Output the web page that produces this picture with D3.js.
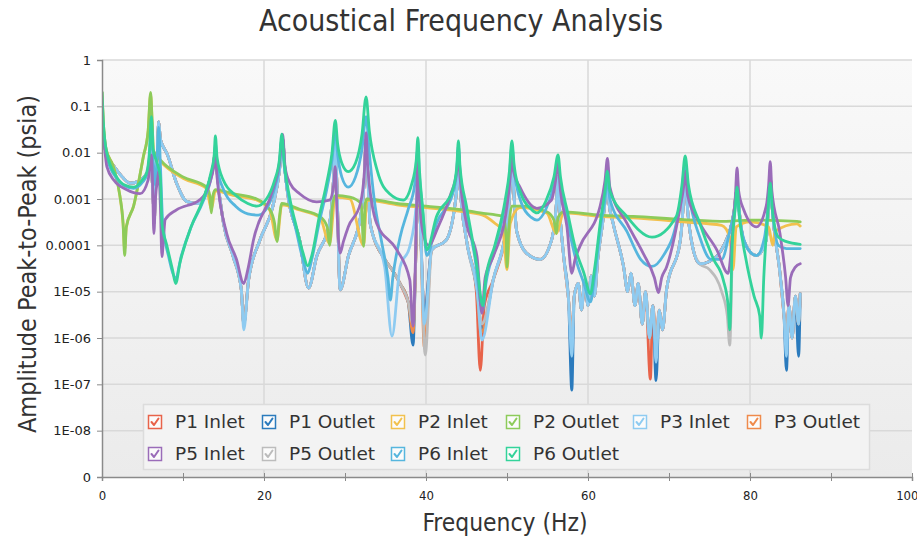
<!DOCTYPE html>
<html><head><meta charset="utf-8">
<script src="https://cdn.jsdelivr.net/npm/d3@7"></script>
<style>
html,body{margin:0;padding:0;background:#fff;}
svg{display:block;}
</style></head>
<body>
<svg id="chart" width="917" height="541"></svg>
<script>
// ---------------- DATA ----------------
const seriesNames = ["P1 Inlet","P1 Outlet","P2 Inlet","P2 Outlet","P3 Inlet","P3 Outlet","P5 Inlet","P5 Outlet","P6 Inlet","P6 Outlet"];
const seriesColors = ["#e8634a","#2b7bbd","#f2c14e","#8dcb5a","#8ecbf1","#ef8a4b","#9a6cb9","#bcbcbc","#56b6de","#33d39a"];
const yTickValues = [1e-9,1e-8,1e-7,1e-6,1e-5,1e-4,1e-3,1e-2,1e-1,1];
const yTickLabels = ["0","1E-08","1E-07","1E-06","1E-05","0.0001","0.001","0.01","0.1","1"];
const xTickValues = [0,20,40,60,80,100];
const xMinorTicks = [0,10,20,30,40,50,60,70,80,90,100];

// [frequency Hz, amplitude psia]
const p3Inlet = [[0,0.03],[0.5,0.01],[1.5,0.005],[2.5,0.003],[3.5,0.0022],[4.5,0.0024],[5.5,0.0035],[6.0,0.005],[6.3,0.0012],[6.45,0.0003],[6.6,0.002],[6.85,0.012],[7.0,0.047],[7.2,0.02],[7.6,0.013],[8.0,0.0097],[9.2,0.0022],[10.5,0.00088],[12.1,0.0008],[13.3,0.0026],[13.8,0.006],[14.0,0.012],[14.2,0.004],[15.0,0.0003],[16.2,5.7e-5],[17.2,1.1e-5],[17.5,1.5e-6],[18.1,1.8e-5],[19.5,1.3e-4],[21.1,7e-4],[21.9,0.004],[22.3,0.02],[22.6,0.004],[22.9,0.0014],[24.4,1.3e-4],[25.5,1.2e-5],[26.5,5.7e-5],[28.1,3e-4],[28.6,0.003],[28.8,0.016],[29.0,0.002],[29.4,1.1e-5],[30.4,5.7e-5],[32.0,5e-4],[32.4,0.003],[32.6,0.02],[32.8,0.004],[33.1,3e-4],[34.9,3.4e-5],[35.8,1.1e-6],[36.8,3.4e-5],[38.0,9.5e-5],[38.8,8e-4],[39.0,0.003],[39.3,3e-4],[39.8,2e-6],[40.7,8e-5],[42.5,1.3e-4],[43.8,0.0016],[44.0,0.01],[44.2,0.002],[45.0,1.3e-4],[46.3,1.1e-5],[46.9,9e-7],[48.3,1.8e-5],[50.0,3e-4],[50.4,0.002],[50.6,0.01],[50.8,0.002],[51.2,2e-4],[52.4,6.8e-5],[54.1,5e-5],[55.5,1.3e-4],[56.1,8e-4],[56.3,0.003],[56.5,6e-4],[57.0,5.7e-5],[57.6,6.6e-6],[58.0,4e-7],[58.3,8e-6],[58.8,1.5e-5],[59.2,4e-6],[59.6,1.8e-5],[60.0,5e-6],[60.4,2.2e-5],[60.8,8e-6],[61.2,5e-5],[61.8,3e-4],[62.2,0.0012],[62.4,0.002],[62.6,8e-4],[63.1,3e-4],[64.4,3.4e-5],[64.9,1e-5],[65.3,2.5e-5],[65.8,5e-6],[66.2,1.5e-5],[66.7,2e-6],[67.1,1e-5],[67.6,1e-6],[68.0,5e-6],[68.4,3e-7],[68.8,4e-6],[69.2,1.5e-6],[69.7,1.1e-5],[71.4,1.3e-4],[71.8,0.001],[72.0,0.005],[72.2,0.001],[73.0,8e-5],[73.8,4e-5],[75.0,4.5e-5],[76.7,9.5e-5],[78.0,5e-4],[78.4,0.0016],[78.7,5e-4],[79.2,1.3e-4],[80.8,6e-5],[82.0,1.3e-4],[82.3,8e-4],[82.5,0.003],[82.7,8e-4],[83.7,2.5e-5],[84.2,3e-6],[84.5,4e-7],[84.8,5e-6],[85.2,1e-6],[85.6,8e-6],[86.0,2e-6],[86.2,9e-6]];

const p1Inlet = [[0,0.03],[0.5,0.01],[1.5,0.005],[2.5,0.003],[3.5,0.0022],[4.5,0.0024],[5.5,0.0035],[6.0,0.005],[6.3,0.0012],[6.45,0.0003],[6.6,0.002],[6.85,0.012],[7.0,0.047],[7.2,0.02],[7.6,0.013],[8.0,0.0097],[9.2,0.0022],[10.5,0.00088],[12.1,0.0008],[13.3,0.0026],[13.8,0.006],[14.0,0.012],[14.2,0.004],[15.0,0.0003],[16.2,5.7e-5],[17.2,1.1e-5],[17.5,2e-6],[18.1,1.8e-5],[19.5,1.3e-4],[21.1,7e-4],[21.9,0.004],[22.3,0.02],[22.6,0.004],[22.9,0.0014],[24.4,1.3e-4],[25.5,1.2e-5],[26.5,5.7e-5],[28.1,3e-4],[28.6,0.003],[28.8,0.016],[29.0,0.002],[29.4,1.1e-5],[30.4,5.7e-5],[32.0,5e-4],[32.4,0.003],[32.6,0.02],[32.8,0.004],[33.1,3e-4],[34.9,5e-5],[35.8,3e-5],[36.8,1.5e-5],[37.8,6e-6],[38.4,3e-6],[38.7,3e-5],[38.9,8e-4],[39.0,0.003],[39.3,3e-4],[39.8,3e-6],[40.7,8e-5],[42.5,1.3e-4],[43.8,0.0016],[44.0,0.01],[44.2,0.002],[45.0,1.3e-4],[46.2,1.1e-5],[46.7,2e-7],[47.2,5e-6],[48.3,1.8e-5],[50.0,3e-4],[50.4,0.002],[50.6,0.01],[50.8,0.002],[51.2,2e-4],[52.4,6.8e-5],[54.1,5e-5],[55.5,1.3e-4],[56.1,8e-4],[56.3,0.003],[56.5,6e-4],[57.0,5.7e-5],[57.6,6.6e-6],[58.0,1e-6],[58.3,8e-6],[58.8,1.5e-5],[59.2,4e-6],[59.6,1.8e-5],[60.0,5e-6],[60.4,2.2e-5],[60.8,8e-6],[61.2,5e-5],[61.8,3e-4],[62.2,0.0012],[62.4,0.002],[62.6,8e-4],[63.1,3e-4],[64.4,3.4e-5],[64.9,1e-5],[65.3,2.5e-5],[65.8,5e-6],[66.2,1.5e-5],[66.7,2e-6],[67.1,1e-5],[67.7,1.3e-7],[68.0,5e-6],[68.4,1e-6],[68.8,4e-6],[69.2,1.5e-6],[69.7,1.1e-5],[71.4,1.3e-4],[71.8,0.001],[72.0,0.005],[72.2,0.001],[73.0,8e-5],[73.8,4e-5],[75.0,4.5e-5],[76.7,9.5e-5],[78.0,5e-4],[78.4,0.0016],[78.7,5e-4],[79.2,1.3e-4],[80.8,6e-5],[82.0,1.3e-4],[82.3,8e-4],[82.5,0.003],[82.7,8e-4],[83.7,2.5e-5],[84.2,3e-6],[84.5,1e-6],[84.8,5e-6],[85.2,1e-6],[85.6,8e-6],[86.0,2e-6],[86.2,9e-6]];

const p1Outlet = [[0,0.03],[0.5,0.01],[1.5,0.005],[2.5,0.003],[3.5,0.0022],[4.5,0.0024],[5.5,0.0035],[6.0,0.005],[6.3,0.0012],[6.45,0.0003],[6.6,0.002],[6.85,0.012],[7.0,0.047],[7.2,0.02],[7.6,0.013],[8.0,0.0097],[9.2,0.0022],[10.5,0.00088],[12.1,0.0008],[13.3,0.0026],[13.8,0.006],[14.0,0.012],[14.2,0.004],[15.0,0.0003],[16.2,5.7e-5],[17.2,1.1e-5],[17.5,2e-6],[18.1,1.8e-5],[19.5,1.3e-4],[21.1,7e-4],[21.9,0.004],[22.3,0.02],[22.6,0.004],[22.9,0.0014],[24.4,1.3e-4],[25.5,1.2e-5],[26.5,5.7e-5],[28.1,3e-4],[28.6,0.003],[28.8,0.016],[29.0,0.002],[29.4,1.1e-5],[30.4,5.7e-5],[32.0,5e-4],[32.4,0.003],[32.6,0.02],[32.8,0.004],[33.1,3e-4],[34.9,5e-5],[35.8,3e-5],[36.8,1.5e-5],[37.8,6e-6],[38.4,7e-7],[38.7,3e-5],[38.9,8e-4],[39.0,0.003],[39.3,3e-4],[39.8,3e-6],[40.7,8e-5],[42.5,1.3e-4],[43.8,0.0016],[44.0,0.01],[44.2,0.002],[45.0,1.3e-4],[46.3,1.1e-5],[46.9,1.5e-6],[48.3,1.8e-5],[50.0,3e-4],[50.4,0.002],[50.6,0.01],[50.8,0.002],[51.2,2e-4],[52.4,6.8e-5],[54.1,5e-5],[55.5,1.3e-4],[56.1,8e-4],[56.3,0.003],[56.5,6e-4],[57.0,5.7e-5],[57.6,6.6e-6],[58.0,7.5e-8],[58.3,8e-6],[58.8,1.5e-5],[59.2,4e-6],[59.6,1.8e-5],[60.0,5e-6],[60.4,2.2e-5],[60.8,8e-6],[61.2,5e-5],[61.8,3e-4],[62.2,0.0012],[62.4,0.002],[62.6,8e-4],[63.1,3e-4],[64.4,3.4e-5],[64.9,1e-5],[65.3,2.5e-5],[65.8,5e-6],[66.2,1.5e-5],[66.7,2e-6],[67.1,1e-5],[67.6,1e-6],[68.0,5e-6],[68.4,1.2e-7],[68.8,4e-6],[69.2,1.5e-6],[69.7,1.1e-5],[71.4,1.3e-4],[71.8,0.001],[72.0,0.005],[72.2,0.001],[73.0,8e-5],[73.8,4e-5],[75.0,4.5e-5],[76.7,9.5e-5],[78.0,5e-4],[78.4,0.0016],[78.7,5e-4],[79.2,1.3e-4],[80.8,6e-5],[82.0,1.3e-4],[82.3,8e-4],[82.5,0.003],[82.7,8e-4],[83.7,2.5e-5],[84.2,3e-6],[84.5,2e-7],[84.8,5e-6],[85.2,1e-6],[85.6,8e-6],[86.0,4e-7],[86.2,9e-6]];

const p3Outlet = [[0,0.03],[0.5,0.01],[1.5,0.005],[2.5,0.003],[3.5,0.0022],[4.5,0.0024],[5.5,0.0035],[6.0,0.005],[6.3,0.0012],[6.45,0.0003],[6.6,0.002],[6.85,0.012],[7.0,0.047],[7.2,0.02],[7.6,0.013],[8.0,0.0097],[9.2,0.0022],[10.5,0.00088],[12.1,0.0008],[13.3,0.0026],[13.8,0.006],[14.0,0.012],[14.2,0.004],[15.0,0.0003],[16.2,5.7e-5],[17.2,1.1e-5],[17.5,2e-6],[18.1,1.8e-5],[19.5,1.3e-4],[21.1,7e-4],[21.9,0.004],[22.3,0.02],[22.6,0.004],[22.9,0.0014],[24.4,1.3e-4],[25.5,1.2e-5],[26.5,5.7e-5],[28.1,3e-4],[28.6,0.003],[28.8,0.016],[29.0,0.002],[29.4,1.1e-5],[30.4,5.7e-5],[32.0,5e-4],[32.4,0.003],[32.6,0.02],[32.8,0.004],[33.1,3e-4],[34.9,5e-5],[35.8,3e-5],[36.8,1.5e-5],[37.8,6e-6],[38.4,1.3e-6],[38.7,3e-5],[38.9,8e-4],[39.0,0.003],[39.3,3e-4],[39.8,6e-7],[40.7,8e-5],[42.5,1.3e-4],[43.8,0.0016],[44.0,0.01],[44.2,0.002],[45.0,1.3e-4],[46.3,1.1e-5],[46.8,1.3e-6],[48.3,1.8e-5],[50.0,3e-4],[50.4,0.002],[50.6,0.01],[50.8,0.002],[51.2,2e-4],[52.4,6.8e-5],[54.1,5e-5],[55.5,1.3e-4],[56.1,8e-4],[56.3,0.003],[56.5,6e-4],[57.0,5.7e-5],[57.6,6.6e-6],[58.0,1e-6],[58.3,8e-6],[58.8,1.5e-5],[59.2,4e-6],[59.6,1.8e-5],[60.0,5e-6],[60.4,2.2e-5],[60.8,8e-6],[61.2,5e-5],[61.8,3e-4],[62.2,0.0012],[62.4,0.002],[62.6,8e-4],[63.1,3e-4],[64.4,3.4e-5],[64.9,1e-5],[65.3,2.5e-5],[65.8,5e-6],[66.2,1.5e-5],[66.7,2e-6],[67.1,1e-5],[67.6,1e-6],[68.0,5e-6],[68.4,6e-7],[68.8,4e-6],[69.2,1.5e-6],[69.7,1.1e-5],[71.4,1.3e-4],[71.8,0.001],[72.0,0.005],[72.2,0.001],[73.0,8e-5],[73.8,4e-5],[75.0,4.5e-5],[76.7,9.5e-5],[78.0,5e-4],[78.4,0.0016],[78.7,5e-4],[79.2,1.3e-4],[80.8,6e-5],[82.0,1.3e-4],[82.3,8e-4],[82.5,0.003],[82.7,8e-4],[83.7,2.5e-5],[84.2,3e-6],[84.5,1e-6],[84.8,5e-6],[85.2,1e-6],[85.6,8e-6],[86.0,2e-6],[86.2,9e-6]];

const p5Outlet = [[0,0.03],[0.5,0.01],[1.5,0.005],[2.5,0.003],[3.5,0.0022],[4.5,0.0024],[5.5,0.0035],[6.0,0.005],[6.3,0.0012],[6.45,0.0003],[6.6,0.002],[6.85,0.012],[7.0,0.047],[7.2,0.02],[7.6,0.013],[8.0,0.0097],[9.2,0.0022],[10.5,0.00088],[12.1,0.0008],[13.3,0.0026],[13.8,0.006],[14.0,0.012],[14.2,0.004],[15.0,0.0003],[16.2,5.7e-5],[17.2,1.1e-5],[17.5,2e-6],[18.1,1.8e-5],[19.5,1.3e-4],[21.1,7e-4],[21.9,0.004],[22.3,0.02],[22.6,0.004],[22.9,0.0014],[24.4,1.3e-4],[25.5,1.2e-5],[26.5,5.7e-5],[28.1,3e-4],[28.6,0.003],[28.8,0.016],[29.0,0.002],[29.4,1.1e-5],[30.4,5.7e-5],[32.0,5e-4],[32.4,0.003],[32.6,0.02],[32.8,0.004],[33.1,3e-4],[34.9,5e-5],[35.8,3e-5],[36.8,1.5e-5],[37.8,6e-6],[38.4,2e-6],[38.7,3e-5],[38.9,8e-4],[39.0,0.003],[39.3,3e-4],[39.9,4.3e-7],[40.7,8e-5],[42.5,1.3e-4],[43.8,0.0016],[44.0,0.01],[44.2,0.002],[45.0,1.3e-4],[46.3,1.1e-5],[46.9,2e-6],[48.3,1.8e-5],[50.0,3e-4],[50.4,0.002],[50.6,0.01],[50.8,0.002],[51.2,2e-4],[52.4,6.8e-5],[54.1,5e-5],[55.5,1.3e-4],[56.1,8e-4],[56.3,0.003],[56.5,6e-4],[57.0,5.7e-5],[57.6,6.6e-6],[58.0,1e-6],[58.3,8e-6],[58.8,1.5e-5],[59.2,4e-6],[59.6,1.8e-5],[60.0,5e-6],[60.4,2.2e-5],[60.8,8e-6],[61.2,5e-5],[61.8,3e-4],[62.2,0.0012],[62.4,0.002],[62.6,8e-4],[63.1,3e-4],[64.4,3.4e-5],[64.9,1e-5],[65.3,2.5e-5],[65.8,5e-6],[66.2,1.5e-5],[66.7,2e-6],[67.1,1e-5],[67.6,1e-6],[68.0,5e-6],[68.4,1e-6],[68.8,4e-6],[69.2,1.5e-6],[69.7,1.1e-5],[71.4,1.3e-4],[71.8,0.001],[72.0,0.005],[72.2,0.001],[73.0,8e-5],[73.8,4e-5],[75.0,3e-5],[76.5,1e-5],[77.2,3e-6],[77.5,7e-7],[77.8,5e-5],[78.1,5e-4],[78.4,0.0016],[78.7,5e-4],[79.2,1.3e-4],[80.8,6e-5],[82.0,1.3e-4],[82.3,8e-4],[82.5,0.003],[82.7,8e-4],[83.7,2.5e-5],[84.2,3e-6],[84.5,1e-6],[84.8,5e-6],[85.2,1e-6],[85.6,8e-6],[86.0,2e-6],[86.2,9e-6]];

const p2Inlet = [[0,0.2],[0.15,0.05],[0.5,0.012],[1.4,0.005],[2.2,0.0012],[2.6,3e-4],[2.8,8e-5],[3.0,2.5e-4],[3.9,7e-4],[5.1,0.008],[5.7,0.03],[6.0,0.18],[6.2,0.04],[6.35,0.01],[7.2,0.0065],[10,0.0028],[12.9,0.0017],[13.5,6e-4],[14.0,0.0015],[16.2,0.0012],[19.1,9.5e-4],[20.7,5.8e-4],[21.6,1.3e-4],[22.2,7.5e-4],[24.4,5.8e-4],[26.9,4e-4],[28.1,1.1e-4],[28.8,0.0011],[30.6,0.001],[32.3,1e-4],[32.7,9.5e-4],[36.4,7.5e-4],[40,6.5e-4],[44,5.5e-4],[47,4.5e-4],[48.5,3e-4],[49.5,2e-4],[50.0,3e-5],[50.4,3e-4],[51.6,6.5e-4],[54.9,5e-4],[56.1,1.8e-4],[57,5e-4],[61.5,4.2e-4],[65.6,3.9e-4],[71.8,3.2e-4],[76.5,2.7e-4],[77.5,1.5e-4],[77.9,3e-5],[78.3,2.5e-4],[80,3.2e-4],[82.3,2.5e-4],[82.8,1e-4],[83.1,2e-4],[85.8,2.9e-4],[86.2,2.6e-4]];

const p2Outlet = [[0,0.2],[0.15,0.05],[0.5,0.012],[1.4,0.005],[2.2,0.0012],[2.6,3e-4],[2.8,6e-5],[3.0,2.5e-4],[3.9,7e-4],[5.1,0.0082],[5.7,0.03],[6.0,0.2],[6.2,0.043],[6.35,0.011],[7.2,0.007],[10,0.003],[12.9,0.0018],[13.3,0.0012],[13.5,5e-4],[13.7,0.0012],[14.0,0.0016],[16.2,0.0013],[19.1,0.001],[20.7,6e-4],[21.3,3e-4],[21.6,1.2e-4],[21.9,4e-4],[22.2,8e-4],[24.4,6e-4],[26.9,4.2e-4],[27.8,2.5e-4],[28.1,1e-4],[28.4,6e-4],[28.8,0.0012],[30.6,0.0011],[32.0,8e-4],[32.3,9.5e-5],[32.5,8e-4],[32.7,0.001],[36.4,8e-4],[40,7e-4],[44,6e-4],[46.7,5e-4],[49.5,4.2e-4],[49.9,1.5e-4],[50.0,3.4e-5],[50.2,2e-4],[50.6,7e-4],[51.6,7e-4],[54.9,5.3e-4],[55.8,3.5e-4],[56.1,1.8e-4],[56.3,4e-4],[57,5.3e-4],[61.5,4.5e-4],[65.6,4.2e-4],[71.8,3.6e-4],[77.1,3.3e-4],[80,3.5e-4],[85.8,3.3e-4],[86.2,3.2e-4]];

const p5Inlet = [[0,0.04],[0.2,0.02],[0.6,0.005],[1.5,0.0025],[3.0,0.0016],[4.7,0.0013],[5.7,0.0026],[5.95,0.006],[6.1,0.009],[6.25,0.002],[6.4,1.8e-4],[6.6,0.001],[6.9,0.003],[7.0,0.004],[7.2,8e-4],[7.4,5.7e-5],[7.6,1.5e-4],[7.8,3.6e-4],[9.2,5.8e-4],[12.1,9.7e-4],[13.3,0.0022],[13.8,0.005],[14.0,0.009],[14.2,0.003],[15.4,1.8e-4],[16.6,5e-5],[17.5,1.5e-5],[18.0,3e-5],[18.7,1.3e-4],[21.1,0.0016],[21.9,0.006],[22.3,0.025],[22.6,0.005],[23.2,0.0022],[24.4,0.0013],[26.5,8.7e-4],[28.1,9.5e-4],[28.6,0.002],[28.8,0.005],[29.0,6e-4],[29.4,6.8e-5],[29.8,1.2e-4],[30.4,2.5e-4],[31.9,8e-4],[32.4,0.004],[32.6,0.027],[32.8,0.005],[33.9,3e-4],[36.4,8e-5],[38.0,1.8e-5],[38.4,1.8e-6],[38.7,5e-5],[38.9,0.002],[39.0,0.007],[39.2,0.001],[39.6,2e-4],[40.3,1e-4],[41.5,2.5e-4],[43.0,0.0012],[43.8,0.004],[44.0,0.012],[44.2,0.003],[45.0,3e-4],[46.3,5.7e-5],[46.9,3.4e-6],[47.3,2e-5],[48.3,5.7e-5],[50.0,7e-4],[50.4,0.003],[50.6,0.01],[50.8,0.004],[51.6,0.0018],[53.7,6.3e-4],[55.5,9.5e-4],[56.0,0.0025],[56.3,0.006],[56.6,0.0015],[57.4,2.5e-4],[58.0,2.5e-5],[58.4,5e-5],[59.0,9.5e-5],[61.5,7e-4],[62.1,0.0025],[62.4,0.0075],[62.7,0.0018],[64.8,3e-4],[66.8,6.8e-5],[68.2,2e-5],[68.7,9.5e-6],[69.1,2e-5],[69.7,3.4e-5],[71.4,7e-4],[71.8,0.0018],[72.0,0.004],[72.3,0.0012],[73.8,3e-4],[75.9,8e-5],[77.3,2.5e-5],[77.8,1.5e-4],[78.2,0.0012],[78.4,0.0047],[78.6,0.0015],[79.2,6e-4],[80.8,2.5e-4],[82.0,7e-4],[82.3,0.002],[82.5,0.0064],[82.7,0.0015],[83.7,1.8e-4],[84.4,2e-5],[84.7,5e-6],[85.0,2e-5],[85.6,3.4e-5],[86.2,4e-5]];

const p6Inlet = [[0,0.05],[0.2,0.02],[0.6,0.008],[1.8,0.0028],[2.8,0.0019],[3.9,0.0017],[5.0,0.0023],[5.5,0.0032],[5.85,0.008],[6.1,0.035],[6.3,0.008],[6.6,0.002],[6.85,0.012],[7.0,0.035],[7.2,0.006],[7.5,3e-4],[8.2,6e-5],[9.1,2e-5],[9.8,6e-5],[11,2.5e-4],[12.5,9e-4],[13.5,0.003],[13.85,0.007],[14.0,0.016],[14.2,0.005],[15,0.0016],[16.5,7e-4],[18,4.8e-4],[19.3,4.5e-4],[20.5,7e-4],[21.4,0.002],[21.9,0.005],[22.2,0.02],[22.5,0.005],[23.2,8e-4],[24,2e-4],[24.8,5e-5],[25.4,2.5e-5],[25.9,5e-5],[26.8,3e-4],[27.8,0.0018],[28.4,0.007],[28.8,0.03],[29.1,0.009],[29.6,0.003],[30.4,0.0018],[31.3,0.003],[32.1,0.012],[32.6,0.06],[33.0,0.01],[33.6,0.001],[34.6,1e-4],[35.3,2e-5],[35.6,6.6e-6],[35.9,2e-5],[36.8,1.5e-4],[37.8,6e-4],[38.6,0.002],[39.0,0.012],[39.2,0.003],[39.6,5e-4],[40.1,6e-5],[41.3,3e-4],[43.3,0.0013],[43.8,0.004],[44.0,0.014],[44.2,0.004],[45,5e-4],[46,6e-5],[47.0,4e-6],[47.4,1.5e-5],[48.5,8e-5],[49.8,8e-4],[50.3,0.003],[50.6,0.014],[50.9,0.004],[51.8,8e-4],[53,4e-4],[53.7,3.5e-4],[54.8,6e-4],[55.8,0.002],[56.3,0.006],[56.6,0.002],[57.5,3e-4],[58.5,5e-5],[59.5,1.5e-5],[60.3,6e-6],[60.8,2e-5],[61.6,3e-4],[62.1,0.001],[62.4,0.003],[62.7,0.001],[64.8,2e-4],[66.5,5e-5],[67.9,3.5e-5],[69.3,6e-5],[70.9,3e-4],[71.6,0.0015],[72.0,0.006],[72.4,0.0015],[73.8,1.5e-4],[75.2,5e-5],[76.5,5e-5],[77.5,2e-4],[78.1,6e-4],[78.4,0.0015],[78.7,4e-4],[79.8,8e-5],[80.8,6e-5],[81.8,1.5e-4],[82.2,6e-4],[82.5,0.002],[82.8,5e-4],[83.5,1e-4],[84.5,8.5e-5],[86.2,8.5e-5]];

const p6Outlet = [[0,0.2],[0.15,0.05],[0.6,0.0097],[1.8,0.003],[2.8,0.002],[3.9,0.0018],[5.0,0.0026],[5.5,0.0036],[5.85,0.01],[6.1,0.06],[6.3,0.012],[6.8,0.006],[7.2,0.003],[7.4,3e-4],[8.0,1e-4],[8.7,3e-5],[9.1,1.5e-5],[9.6,4e-5],[11,2.5e-4],[12.5,0.001],[13.5,0.004],[13.85,0.009],[14.0,0.023],[14.2,0.008],[15,0.0025],[16.5,0.0012],[18,0.0008],[19.1,0.0007],[20.3,0.001],[21.3,0.0025],[21.9,0.007],[22.2,0.025],[22.5,0.006],[23.2,0.001],[24,2.5e-4],[24.8,7e-5],[25.4,3.6e-5],[25.9,6e-5],[26.8,4e-4],[27.8,0.0025],[28.4,0.01],[28.8,0.05],[29.1,0.015],[29.6,0.006],[30.4,0.0039],[31.3,0.006],[32.1,0.025],[32.6,0.16],[33.0,0.03],[34,0.004],[35.5,0.0013],[37.2,0.00095],[38.2,0.002],[38.8,0.007],[39.0,0.021],[39.2,0.004],[39.6,6e-4],[40.1,8e-5],[41.3,4.2e-4],[43.3,0.0016],[43.8,0.005],[44.0,0.018],[44.2,0.005],[45,7e-4],[46.3,3.4e-5],[47.0,5e-6],[47.4,2e-5],[48.5,1e-4],[49.8,0.001],[50.3,0.004],[50.6,0.018],[50.9,0.005],[51.8,0.0012],[53,6e-4],[53.7,5e-4],[54.8,9e-4],[55.8,0.003],[56.3,0.009],[56.6,0.003],[57.5,5e-4],[58.5,8e-5],[59.5,2.5e-5],[60.3,9e-6],[60.8,3e-5],[61.6,4e-4],[62.1,0.0015],[62.4,0.004],[62.7,0.0015],[64.8,4.2e-4],[67.9,1.5e-4],[70.9,4.2e-4],[71.6,0.002],[72.0,0.0085],[72.4,0.002],[73.8,3e-4],[75.5,5e-5],[76.7,1.8e-5],[77.3,5e-6],[77.5,1.5e-6],[77.8,1e-4],[78.2,7e-4],[78.4,0.0018],[78.7,4e-4],[79.5,5e-5],[80.5,8e-6],[81.2,3e-6],[81.4,1e-6],[81.7,2e-5],[82.2,5e-4],[82.5,0.0022],[82.8,5e-4],[83.5,1.5e-4],[84.5,1.2e-4],[86.2,1.05e-4]];

const seriesData = [p1Inlet,p1Outlet,p2Inlet,p2Outlet,p3Inlet,p3Outlet,p5Inlet,p5Outlet,p6Inlet,p6Outlet];
// drawing order (bottom to top)
const drawOrder = [0,1,5,7,4,2,3,8,6,9];

// ---------------- CHART ----------------
const svg = d3.select("#chart");
const W = 917, H = 541;
const plot = {left:102, right:912, top:60, bottom:477};
const x = d3.scaleLinear().domain([0,100]).range([plot.left, plot.right]);
const y = d3.scaleLog().domain([1e-9,1]).range([plot.bottom, plot.top]);

const defs = svg.append("defs");
const grad = defs.append("linearGradient").attr("id","bg").attr("x1",0).attr("y1",0).attr("x2",0).attr("y2",1);
grad.append("stop").attr("offset","0%").attr("stop-color","#f9f9f9");
grad.append("stop").attr("offset","100%").attr("stop-color","#ebebeb");
defs.append("clipPath").attr("id","clip").append("rect")
  .attr("x",plot.left).attr("y",plot.top-2).attr("width",plot.right-plot.left).attr("height",plot.bottom-plot.top+2);

svg.append("rect").attr("x",plot.left).attr("y",plot.top).attr("width",plot.right-plot.left)
  .attr("height",plot.bottom-plot.top).attr("fill","url(#bg)");

// grid
const grid = svg.append("g");
grid.selectAll("line.h").data(yTickValues.slice(1)).join("line")
  .attr("x1",plot.left).attr("x2",plot.right).attr("y1",d=>y(d)).attr("y2",d=>y(d))
  .attr("stroke","#d9d9d9").attr("stroke-width",1.5);
grid.selectAll("line.v").data(xTickValues.slice(1,-1)).join("line")
  .attr("x1",d=>x(d)).attr("x2",d=>x(d)).attr("y1",plot.top).attr("y2",plot.bottom)
  .attr("stroke","#d9d9d9").attr("stroke-width",1.5);

// lines
const line = d3.line().x(d=>x(d[0])).y(d=>y(d[1])).curve(d3.curveMonotoneX);
const lines = svg.append("g").attr("clip-path","url(#clip)");
drawOrder.forEach(i=>{
  lines.append("path").datum(seriesData[i]).attr("d",line)
    .attr("fill","none").attr("stroke",seriesColors[i]).attr("stroke-width",2.8)
    .attr("stroke-linejoin","round").attr("stroke-linecap","round");
});

// axes
const axisColor = "#8a8a8a";
const yAxis = d3.axisLeft(y).tickValues(yTickValues).tickFormat((d,i)=>yTickLabels[i]).tickSize(5).tickPadding(6);
const gy = svg.append("g").attr("transform",`translate(${plot.left},0)`).call(yAxis);
gy.select(".domain").attr("stroke",axisColor).attr("stroke-width",1.5);
gy.selectAll(".tick line").attr("stroke",axisColor);
gy.selectAll(".tick text").attr("font-family","DejaVu Sans, sans-serif").attr("font-size",13).attr("fill","#222");

const xAxis = d3.axisBottom(x).tickValues(xMinorTicks).tickFormat(d=>xTickValues.includes(d)?d:"").tickSize(4).tickPadding(10);
const gx = svg.append("g").attr("transform",`translate(0,${plot.bottom})`).call(xAxis);
gx.select(".domain").attr("stroke",axisColor).attr("stroke-width",1.5);
gx.selectAll(".tick line").attr("stroke",axisColor).attr("y1",-4);
gx.selectAll(".tick text").attr("font-family","DejaVu Sans Condensed, DejaVu Sans, sans-serif").attr("font-size",13).attr("fill","#222");
gx.selectAll(".tick text").filter(d=>d===100).attr("text-anchor","end").attr("dx",6);

// titles
const condensed = "Liberation Sans Narrow, DejaVu Sans Condensed, Roboto Condensed, sans-serif";
svg.append("text").attr("x",461).attr("y",31).attr("text-anchor","middle")
  .attr("font-family",condensed).attr("font-size",30).attr("fill","#333")
  .attr("textLength",404).attr("lengthAdjust","spacingAndGlyphs")
  .text("Acoustical Frequency Analysis");
svg.append("text").attr("x",505).attr("y",531).attr("text-anchor","middle")
  .attr("font-family",condensed).attr("font-size",24).attr("fill","#333")
  .attr("textLength",165).attr("lengthAdjust","spacingAndGlyphs")
  .text("Frequency (Hz)");
svg.append("text").attr("transform","translate(36,264) rotate(-90)").attr("text-anchor","middle")
  .attr("font-family",condensed).attr("font-size",24).attr("fill","#333")
  .attr("textLength",338).attr("lengthAdjust","spacingAndGlyphs")
  .text("Amplitude Peak-to-Peak (psia)");

// legend
const lg = svg.append("g");
lg.append("rect").attr("x",143.5).attr("y",404.5).attr("width",726).attr("height",65)
  .attr("fill","#f3f3f3").attr("stroke","#dcdcdc").attr("stroke-width",1.5);
const legendPos = [[148,415],[262,415],[391,415],[506,415],[633,415],[747,415],[148,447],[262,447],[391,447],[506,447]];
seriesNames.forEach((name,i)=>{
  const [lx,ly] = legendPos[i];
  const g = lg.append("g").attr("transform",`translate(${lx},${ly})`);
  g.append("rect").attr("x",0.5).attr("y",0.5).attr("width",13).attr("height",13)
    .attr("fill","#fbfbfb").attr("stroke",seriesColors[i]).attr("stroke-width",1.5);
  g.append("path").attr("d","M3.5,7 L6,10 L10.5,3.5").attr("fill","none")
    .attr("stroke",seriesColors[i]).attr("stroke-width",2).attr("stroke-linecap","round").attr("stroke-linejoin","round");
  g.append("text").attr("x",27).attr("y",13).attr("font-family","DejaVu Sans, sans-serif")
    .attr("font-size",18.5).attr("fill","#333").text(name);
});
</script>
</body></html>
